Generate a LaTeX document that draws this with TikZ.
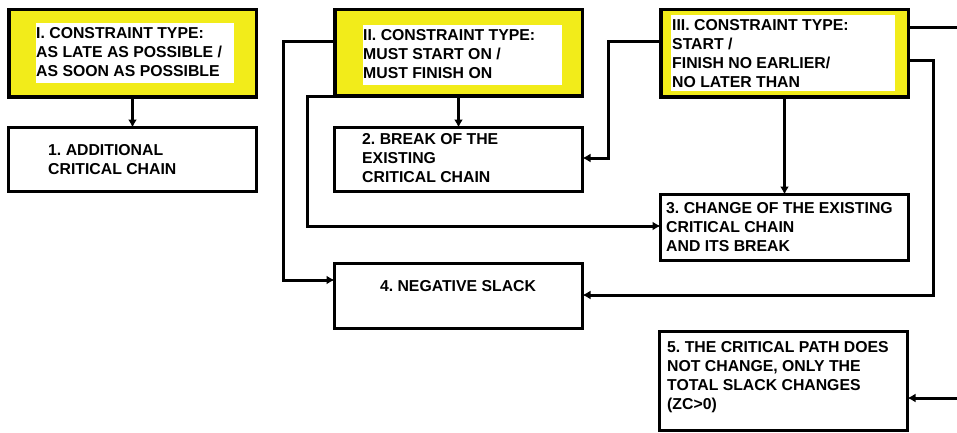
\documentclass[tikz,border=0pt]{standalone}
\usepackage{fontspec}
\setmainfont{Liberation Sans}
\usetikzlibrary{arrows.meta}
\definecolor{boxyellow}{RGB}{242,236,26}
\frenchspacing
\tikzset{
  ybox/.style={draw=black, line width=3.5pt, fill=boxyellow, inner sep=0pt, outer sep=0pt},
  wbox/.style={draw=black, line width=3pt, fill=white, inner sep=0pt, outer sep=0pt},
  hilite/.style={fill=white, draw=none, inner sep=0pt, outer sep=0pt, anchor=north west},
  txt/.style={font=\fontsize{15.8}{19}\selectfont\bfseries, inner sep=0pt, align=left, anchor=north west},
  link/.style={draw=black, line width=3pt},
  conn/.style={link, -{Latex[length=8pt,width=9pt]}},
}
\begin{document}
\begin{tikzpicture}[x=1pt,y=-1pt]
\useasboundingbox (0,0) rectangle (957,433);
% boxes
\node[ybox, minimum width=247.5pt, minimum height=87.5pt] (bI) at (132.5,53.5) {};
\node[wbox, minimum width=248pt, minimum height=64pt] (b1) at (132.5,159.5) {};
\node[ybox, minimum width=247.5pt, minimum height=86.5pt] (bII) at (458.5,53) {};
\node[wbox, minimum width=248pt, minimum height=64pt] (b2) at (458.5,159.5) {};
\node[ybox, minimum width=247.5pt, minimum height=87.5pt] (bIII) at (784.5,53.5) {};
\node[wbox, minimum width=248pt, minimum height=66pt] (b3) at (784.5,227.5) {};
\node[wbox, minimum width=248pt, minimum height=65pt] (b4) at (458.5,296) {};
\node[wbox, minimum width=248pt, minimum height=99pt] (b5) at (783.5,381) {};
% white highlights
\node[hilite, minimum width=198pt, minimum height=60pt] (hI) at (36,23) {};
\node[hilite, minimum width=199pt, minimum height=60pt] (hII) at (363,25) {};
\node[hilite, minimum width=224pt, minimum height=76pt] (hIII) at (671,15) {};
% texts
\node[txt] (tI) at (36,25.3) {\strut I. CONSTRAINT TYPE:\\AS LATE AS POSSIBLE /\\AS SOON AS POSSIBLE};
\node[txt] (t1) at (48,142.3) {\strut 1. ADDITIONAL\\CRITICAL CHAIN};
\node[txt] (tII) at (363,27.3) {\strut II. CONSTRAINT TYPE:\\MUST START ON /\\MUST FINISH ON};
\node[txt] (t2) at (362,131.3) {\strut 2. BREAK OF THE\\EXISTING\\CRITICAL CHAIN};
\node[txt] (tIII) at (672,17.3) {\strut III. CONSTRAINT TYPE:\\START /\\FINISH NO EARLIER/\\NO LATER THAN};
\node[txt] (t3) at (666,200.3) {\strut 3. CHANGE OF THE EXISTING\\CRITICAL CHAIN\\AND ITS BREAK};
\node[txt, anchor=base] (t4) at (458,291.6) {4. NEGATIVE SLACK};
\node[txt] (t5) at (667,339.3) {\strut 5. THE CRITICAL PATH DOES\\NOT CHANGE, ONLY THE\\TOTAL SLACK CHANGES\\(ZC>0)};
% bend points
\coordinate (p1) at (283,42);
\coordinate (p2) at (283,280);
\coordinate (q1) at (307,97);
\coordinate (q2) at (307,226);
\coordinate (r1) at (608,42);
\coordinate (r2) at (608,158);
\coordinate (s1) at (933,61);
\coordinate (s2) at (933,295);
\coordinate (e1) at (957,28);
\coordinate (e2) at (957,398);
% connectors
\draw[conn] (bI.south) -- (b1.north);
\draw[conn] (bII.south) -- (b2.north);
\draw[conn] (bIII.south) -- (b3.north);
\draw[conn] (p1 -| bII.west) -- (p1) -- (p2) -- (p2 -| b4.west);
\draw[conn] (q1 -| bII.west) -- (q1) -- (q2) -- (q2 -| b3.west);
\draw[conn] (r1 -| bIII.west) -- (r1) -- (r2) -- (r2 -| b2.east);
\draw[conn] (s1 -| bIII.east) -- (s1) -- (s2) -- (s2 -| b4.east);
\draw[link] (e1 -| bIII.east) -- (e1);
\draw[conn] (e2) -- (e2 -| b5.east);
\end{tikzpicture}
\end{document}
